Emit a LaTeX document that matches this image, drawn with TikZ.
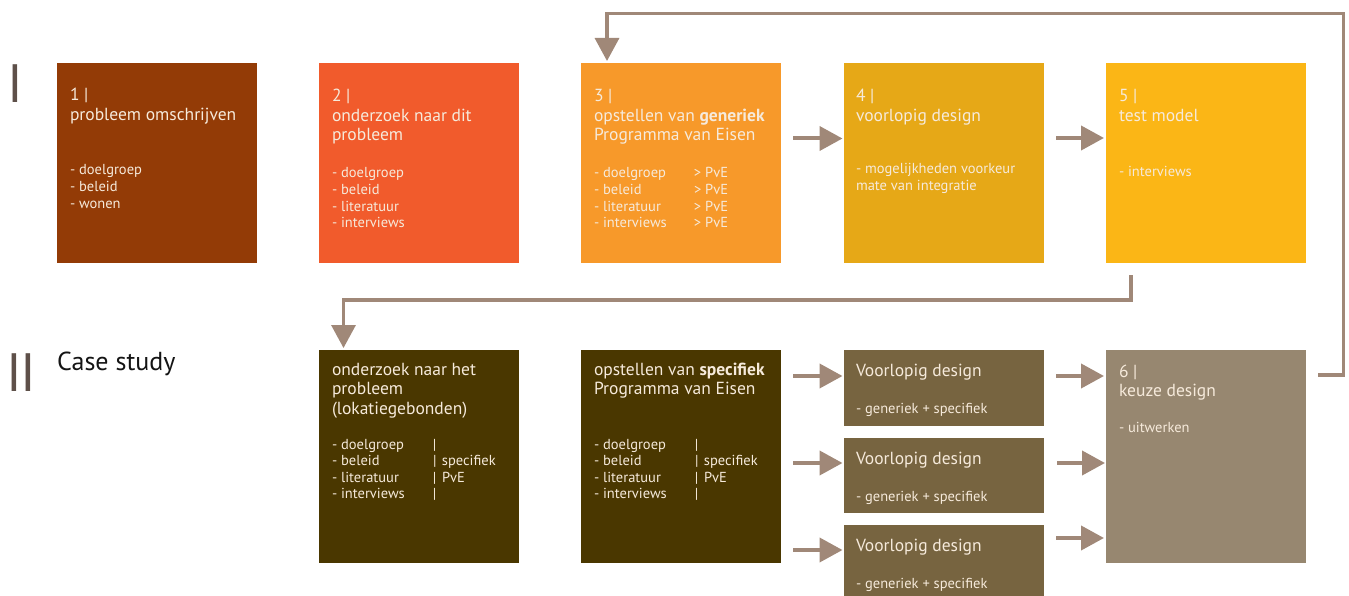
\documentclass[tikz,border=0pt]{standalone}
\usepackage{fontspec}
\setmainfont{PT Sans}
\usetikzlibrary{arrows.meta,calc}
\definecolor{cone}{HTML}{933B06}
\definecolor{ctwo}{HTML}{F15B2C}
\definecolor{cthree}{HTML}{F7992A}
\definecolor{cfour}{HTML}{E6A817}
\definecolor{cfive}{HTML}{FBB616}
\definecolor{cdark}{HTML}{4A3700}
\definecolor{cvoor}{HTML}{776440}
\definecolor{csix}{HTML}{978770}
\definecolor{arrc}{HTML}{A08878}
\definecolor{txtc}{HTML}{F6EADB}
\definecolor{numc}{HTML}{5E5049}
\tikzset{
  box/.style={rectangle, inner sep=0pt, outer sep=0pt, anchor=north west, minimum width=200pt, minimum height=#1},
  box/.default=200pt,
  ttl/.style={anchor=base west, inner sep=0pt, outer sep=0pt, text=txtc, font=\fontsize{17.5}{19.5}\selectfont},
  lst/.style={anchor=base west, inner sep=0pt, outer sep=0pt, text=txtc, font=\fontsize{14.5}{16.6}\selectfont},
  conn/.style={draw=arrc, line width=3.3pt, -{Triangle[length=23pt,width=24pt]}, shorten >=2pt},
  arr/.style={draw=arrc, line width=4pt, -{Triangle[length=23pt,width=24pt]}},
}
\newcommand{\rows}[1]{\begin{tabular}[t]{@{}l@{}}#1\end{tabular}}
\begin{document}
\begin{tikzpicture}[x=1pt,y=-1pt]
\useasboundingbox (0,0) rectangle (1349,596);
% roman numerals and label
\node[anchor=base west, inner sep=0pt, text=numc, font=\fontsize{54}{54}\selectfont] (rI) at (7,102.3) {I};
\node[anchor=base west, inner sep=0pt, text=numc, font=\fontsize{54}{54}\selectfont] (rII) at (6.3,391) {I\kern-2pt I};
\node[anchor=base west, inner sep=0pt, text=black!92, font=\fontsize{26}{26}\selectfont] (cs) at (57,370) {Case study};
% top row boxes
\node[box, fill=cone] (b1) at (57,63) {};
\node[box, fill=ctwo] (b2) at (319,63) {};
\node[box, fill=cthree] (b3) at (581,63) {};
\node[box, fill=cfour] (b4) at (844,63) {};
\node[box, fill=cfive] (b5) at (1106,63) {};
% bottom row boxes
\node[box=213pt, fill=cdark] (bA) at (319,350) {};
\node[box=213pt, fill=cdark] (bB) at (581,350) {};
\node[box=76pt, fill=cvoor] (v1) at (844,350) {};
\node[box=75pt, fill=cvoor] (v2) at (844,438) {};
\node[box=76pt, fill=cvoor] (v3) at (844,525) {};
\node[box=213pt, fill=csix] (b6) at (1106,350) {};
% texts top row
\node[ttl] (t1) at (70,101) {\rows{1 |\\probleem omschrijven}};
\node[lst] (l1) at (70,175) {\rows{- doelgroep\\- beleid\\- wonen}};
\node[ttl] (t2) at (332,102) {\rows{2 |\\onderzoek naar dit\\probleem}};
\node[lst] (l2) at (332,178) {\rows{- doelgroep\\- beleid\\- literatuur\\- interviews}};
\node[ttl] (t3) at (594,102) {\rows{3 |\\opstellen van \textbf{generiek}\\Programma van Eisen}};
\node[lst] (l3) at (594,178) {\rows{\makebox[100pt][l]{- doelgroep}> PvE\\\makebox[100pt][l]{- beleid}> PvE\\\makebox[100pt][l]{- literatuur}> PvE\\\makebox[100pt][l]{- interviews}> PvE}};
\node[ttl] (t4) at (856,102) {\rows{4 |\\voorlopig design}};
\node[lst] (l4) at (856,174) {\rows{- mogelijkheden voorkeur\\mate van integratie}};
\node[ttl] (t5) at (1119,102) {\rows{5 |\\test model}};
\node[lst] (l5) at (1119,177) {\rows{- interviews}};
% texts bottom row
\node[ttl] (tA) at (332,375) {\rows{onderzoek naar het\\probleem\\(lokatiegebonden)}};
\node[lst] (lA) at (332,449) {\rows{\makebox[101pt][l]{- doelgroep}|\\\makebox[101pt][l]{- beleid}\makebox[9pt][l]{|}specifiek\\\makebox[101pt][l]{- literatuur}\makebox[9pt][l]{|}PvE\\\makebox[101pt][l]{- interviews}|}};
\node[ttl] (tB) at (594,375) {\rows{opstellen van \textbf{specifiek}\\Programma van Eisen}};
\node[lst] (lB) at (594,449) {\rows{\makebox[101pt][l]{- doelgroep}|\\\makebox[101pt][l]{- beleid}\makebox[9pt][l]{|}specifiek\\\makebox[101pt][l]{- literatuur}\makebox[9pt][l]{|}PvE\\\makebox[101pt][l]{- interviews}|}};
\node[ttl] (tv1) at (856,376) {Voorlopig design};
\node[lst] (lv1) at (856,413) {- generiek + specifiek};
\node[ttl] (tv2) at (856,464) {Voorlopig design};
\node[lst] (lv2) at (856,501) {- generiek + specifiek};
\node[ttl] (tv3) at (856,551) {Voorlopig design};
\node[lst] (lv3) at (856,588) {- generiek + specifiek};
\node[ttl] (t6) at (1119,377) {\rows{6 |\\keuze design}};
\node[lst] (l6) at (1119,432) {\rows{- uitwerken}};
% short arrows
\draw[arr] ($(b3.north east)+(12,75.5)$) -- ($(b4.north west)+(-1.5,75.5)$);
\draw[arr] ($(b4.north east)+(12,75)$) -- ($(b5.north west)+(-2,75)$);
\draw[arr] ($(bB.north east)+(12,26)$) -- ($(v1.north west)+(-1.5,26)$);
\draw[arr] ($(bB.north east)+(12,113)$) -- ($(v2.north west)+(-1.5,25)$);
\draw[arr] ($(bB.north east)+(12,200)$) -- ($(v3.north west)+(-1.5,25)$);
\draw[arr] ($(v1.north east)+(12,26)$) -- ($(b6.north west)+(-2,26)$);
\draw[arr] ($(v2.north east)+(13,25)$) -- ($(b6.north west)+(-1,113)$);
\draw[arr] ($(v3.north east)+(12,13)$) -- ($(b6.north west)+(-2,188)$);
% long connectors
\coordinate (fbS) at ($(b6.north east)+(12,25)$);
\draw[conn] (fbS) -- ++(25.5,0) |- ($(b3.north west)+(26,-49.3)$) -- ($(b3.north west)+(26,0)$);
\draw[conn] ($(b5.south west)+(25,12)$) |- ($(bA.north west)+(24.5,-50)$) -- ($(bA.north west)+(24.5,0)$);
\end{tikzpicture}
\end{document}
